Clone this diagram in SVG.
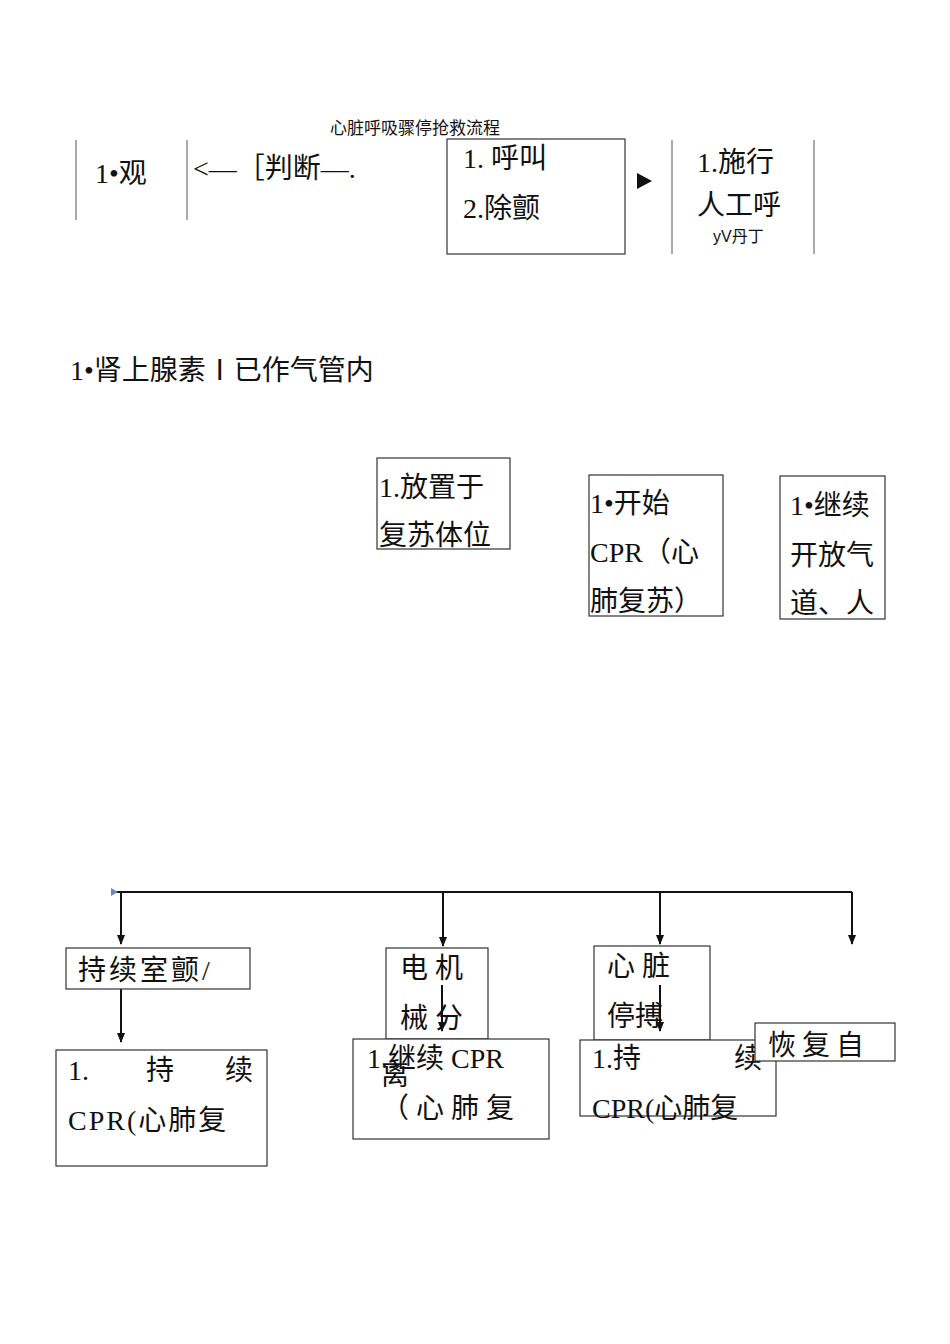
<svg xmlns="http://www.w3.org/2000/svg" width="950" height="1344" viewBox="0 0 950 1344">
<style>
text{font-family:"Liberation Serif","Noto Sans CJK SC",serif;fill:#111;font-size:28px}
.b{fill:#fff;stroke:#333;stroke-width:1.2}
.v{stroke:#555;stroke-width:1}
.c{stroke:#111;stroke-width:2;fill:none}
text.s{font-family:"Liberation Sans","Noto Sans CJK SC",sans-serif;font-size:16px}
text.t{font-size:17px}
</style>
<defs><marker id="a" markerWidth="10" markerHeight="10" refX="9" refY="5" orient="auto" markerUnits="userSpaceOnUse"><path d="M0,1 L10,5 L0,9 Z" fill="#111"/></marker></defs>
<rect width="950" height="1344" fill="#fff"/>
<text class="s t" x="415" y="134" text-anchor="middle">心脏呼吸骤停抢救流程</text>
<g id="n1"><line class="v" x1="76" y1="140" x2="76" y2="220"/><line class="v" x1="187" y1="140" x2="187" y2="220"/><text x="95" y="183">1•观</text></g>
<g id="n2"><text x="193" y="178">&lt;—［判断—.</text></g>
<g id="n3"><rect class="b" x="447" y="139" width="178" height="115"/><text x="463" y="168">1.    呼叫</text><text x="463" y="218">2.除颤</text></g>
<g id="n4"><line class="v" x1="672" y1="140" x2="672" y2="254"/><line class="v" x1="814" y1="140" x2="814" y2="254"/><text x="697" y="172">1.施行</text><text x="697" y="215">人工呼</text><text class="s" x="713" y="242">yV丹丁</text></g>
<g id="n5"><text x="70" y="380">1•肾上腺素Ⅰ已作气管内</text></g>
<g id="n6"><rect class="b" x="377" y="458" width="133" height="91"/><text x="379" y="497">1.放置于</text><text x="379" y="545">复苏体位</text></g>
<g id="n7"><rect class="b" x="589" y="475" width="134" height="141"/><text x="590" y="513">1•开始</text><text x="590" y="562">CPR（心</text><text x="590" y="611">肺复苏）</text></g>
<g id="n8"><rect class="b" x="780" y="476" width="105" height="143"/><text x="790" y="515">1•继续</text><text x="790" y="565">开放气</text><text x="790" y="613">道、人</text></g>
<g id="connectors">
<path d="M637,173 L652,181 L637,189 Z" fill="#111"/>
<path class="c" d="M115,892 H852"/>
<path d="M111,888 L118,892 L111,896 Z" fill="#6a8ab8"/>
<path class="c" d="M121,892 V944" marker-end="url(#a)"/>
<path class="c" d="M443,892 V946" marker-end="url(#a)"/>
<path class="c" d="M660,892 V944" marker-end="url(#a)"/>
<path class="c" d="M852,892 V944" marker-end="url(#a)"/>
<path class="c" d="M121,989 V1042" marker-end="url(#a)" stroke-width="1.5"/>
</g>
<g id="n9"><rect class="b" x="66" y="948" width="184" height="41"/><text x="78" y="980" letter-spacing="3">持续室颤/</text></g>
<g id="n10"><rect class="b" x="56" y="1050" width="211" height="116"/><text x="68" y="1080">1.</text><text x="146" y="1080">持</text><text x="225" y="1080">续</text><text x="68" y="1130" letter-spacing="2">CPR(心肺复</text></g>
<g id="n11"><rect class="b" x="386" y="948" width="102" height="91"/><text x="400" y="978">电   机</text><text x="400" y="1028">械   分</text></g>
<g id="n12"><rect class="b" x="353" y="1039" width="196" height="100"/><text x="367" y="1068">1.继续  CPR</text><text x="381" y="1085">离</text><text x="381" y="1118">（ 心 肺 复</text></g>
<g id="n13"><rect class="b" x="594" y="946" width="116" height="94"/><text x="607" y="976">心   脏</text><text x="607" y="1026">停搏</text></g>
<g id="n14"><rect class="b" x="580" y="1040" width="196" height="76"/><text x="592" y="1068">1.持</text><text x="734" y="1068">续</text><text x="592" y="1118">CPR(心肺复</text></g>
<g id="n15"><rect class="b" x="755" y="1023" width="140" height="38"/><text x="768" y="1055" letter-spacing="6">恢复自</text></g>
<g id="inner">
<path class="c" d="M442,985 V1031" marker-end="url(#a)"/>
<path class="c" d="M660,985 V1031" marker-end="url(#a)"/>
</g>
</svg>
